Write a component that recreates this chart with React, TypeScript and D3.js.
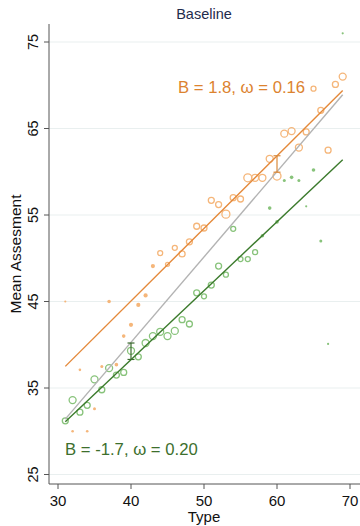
import React from "react";
import * as d3 from "d3";

const orangeX = [31,32,33,34,35,36,37,38,39,40,41,42,43,44,45,46,47,48,49,50,51,52,53,54,55,56,57,58,59,60,61,62,63,64,65,66,67,68,69];
const orangeY = [45.0,30.0,37.1,30.0,32.6,37.5,45.0,37.7,41.0,42.3,44.6,45.7,49.1,50.6,49.3,51.2,50.5,51.9,53.7,53.5,56.7,56.2,55.1,57.0,56.85,59.3,59.3,59.3,61.5,59.5,64.4,64.7,62.8,64.6,69.6,67.1,62.5,70.1,71.0];
const orangeR = [0.8,1,1,1,1.2,1.2,1.5,1.5,1.5,1.8,1.8,1.8,1.8,2.5,2,2.5,3,3,3,3,3,3,4,3,3,4,3.5,3.5,3.5,4,3.5,3.5,3.5,3,2.5,3,3,3,3.5];

const greenX = [31,32,33,34,35,36,37,38,39,40,41,42,43,44,45,46,47,48,49,50,51,52,53,54,55,56,57,58,59,60,61,62,63,64,65,66,67,69];
const greenY = [31.2,33.6,32.2,33.0,36.0,34.8,37.3,36.5,36.8,39.3,38.6,40.2,41.0,41.5,41.0,41.6,42.9,42.4,46.0,45.6,46.9,49.1,48.1,53.4,49.9,49.9,50.7,52.6,55.8,54.2,59.0,59.35,59.0,56.0,60.2,52.0,40.1,76.0];
const greenR = [3,3.5,3,3,3.5,3,3.5,3,3,3.5,3,3.5,3.5,3.5,3.5,3.5,3,3,3,2.5,3,3,2.5,2.5,2.5,2.5,2.5,1.5,1.5,1.5,1.2,1.5,1.2,0.8,1.5,1.2,0.8,0.8];

const lineX = [31, 69];
const orangeFit = [37.5, 69.4];
const grayFit = [31.4, 68.9];
const greenFit = [31.1, 61.4];

const errOrange = { x: 60, lo: 59.95, hi: 61.85 };
const errGreen = { x: 40, lo: 38.3, hi: 40.2 };

const xTicks = [30, 40, 50, 60, 70];
const yTicks = [25, 35, 45, 55, 65, 75];

const title = "Baseline";
const xLabel = "Type";
const yLabel = "Mean Assesment";
const orangeLabel = "B = 1.8, ω = 0.16";
const greenLabel = "B = -1.7, ω = 0.20";

const FONT = "'Liberation Sans', Arial, Helvetica, sans-serif";
const C_OR_LINE = "#e4893a";
const C_OR_PT = "#f5b67a";
const C_OR_TXT = "#dc832f";
const C_GR_LINE = "#3b7a2c";
const C_GR_PT = "#88c37b";
const C_GR_TXT = "#3d6f2d";
const C_GRAY = "#b3b3b3";

export default function App() {
  const x = d3.scaleLinear().domain([30, 70]).range([58, 350]);
  const y = d3.scaleLinear().domain([25, 75]).range([474.5, 42]);
  const axL = 49, axR = 360, axT = 24, axB = 484;

  const line = d3.line<[number, number]>().x(d => x(d[0])).y(d => y(d[1]));
  const fit = (vals: number[]) => line(lineX.map((v, i) => [v, vals[i]] as [number, number])) || "";

  const pts = (xs: number[], ys: number[], rs: number[], color: string, key: string) =>
    xs.map((xv, i) => {
      const r = rs[i];
      const small = r < 2;
      return (
        <circle
          key={key + i}
          cx={x(xv)}
          cy={y(ys[i])}
          r={small ? r + 0.3 : r}
          fill={small ? color : "none"}
          stroke={small ? "none" : color}
          strokeWidth={1.3}
        />
      );
    });

  const errBar = (e: { x: number; lo: number; hi: number }, color: string) => (
    <g stroke={color} strokeWidth={1.2}>
      <line x1={x(e.x)} x2={x(e.x)} y1={y(e.lo)} y2={y(e.hi)} />
      <line x1={x(e.x) - 3.5} x2={x(e.x) + 3.5} y1={y(e.lo)} y2={y(e.lo)} />
      <line x1={x(e.x) - 3.5} x2={x(e.x) + 3.5} y1={y(e.hi)} y2={y(e.hi)} />
    </g>
  );

  return (
    <svg width={360} height={526} style={{ position: "absolute", left: 0, top: 0, background: "#fff" }} fontFamily={FONT}>
      <rect width={360} height={526} fill="#fff" />
      <text x={204} y={18.5} textAnchor="middle" fontSize={14.5} fill="#1f2c4c">{title}</text>
      {yTicks.map(t => (
        <line key={"g" + t} x1={axL} x2={axR} y1={y(t)} y2={y(t)} stroke="#e9efef" strokeWidth={1.2} />
      ))}
      {pts(orangeX, orangeY, orangeR, C_OR_PT, "o")}
      {pts(greenX, greenY, greenR, C_GR_PT, "g")}
      <path d={fit(grayFit)} stroke={C_GRAY} strokeWidth={1.4} fill="none" />
      <path d={fit(orangeFit)} stroke={C_OR_LINE} strokeWidth={1.4} fill="none" />
      <path d={fit(greenFit)} stroke={C_GR_LINE} strokeWidth={1.4} fill="none" />
      {errBar(errOrange, "#d98a3c")}
      {errBar(errGreen, "#3a6a2e")}
      <text x={178} y={93} fontSize={16.7} fill={C_OR_TXT}>{orangeLabel}</text>
      <text x={65} y={455} fontSize={16.7} fill={C_GR_TXT}>{greenLabel}</text>
      <line x1={axL} x2={axL} y1={axT} y2={axB} stroke="#555" strokeWidth={1} />
      <line x1={axL} x2={axR} y1={axB} y2={axB} stroke="#555" strokeWidth={1} />
      {yTicks.map(t => (
        <g key={"yt" + t}>
          <line x1={axL - 5} x2={axL} y1={y(t)} y2={y(t)} stroke="#555" />
          <text transform={`translate(37.5,${y(t)}) rotate(-90)`} textAnchor="middle" fontSize={14.5} fill="#111">{t}</text>
        </g>
      ))}
      {xTicks.map(t => (
        <g key={"xt" + t}>
          <line x1={x(t)} x2={x(t)} y1={axB} y2={axB + 5} stroke="#555" />
          <text x={x(t)} y={506} textAnchor="middle" fontSize={15} fill="#111">{t}</text>
        </g>
      ))}
      <text x={204} y={522} textAnchor="middle" fontSize={15} fill="#111">{xLabel}</text>
      <text transform={`translate(20.5,254) rotate(-90)`} textAnchor="middle" fontSize={15.5} fill="#111">{yLabel}</text>
    </svg>
  );
}
